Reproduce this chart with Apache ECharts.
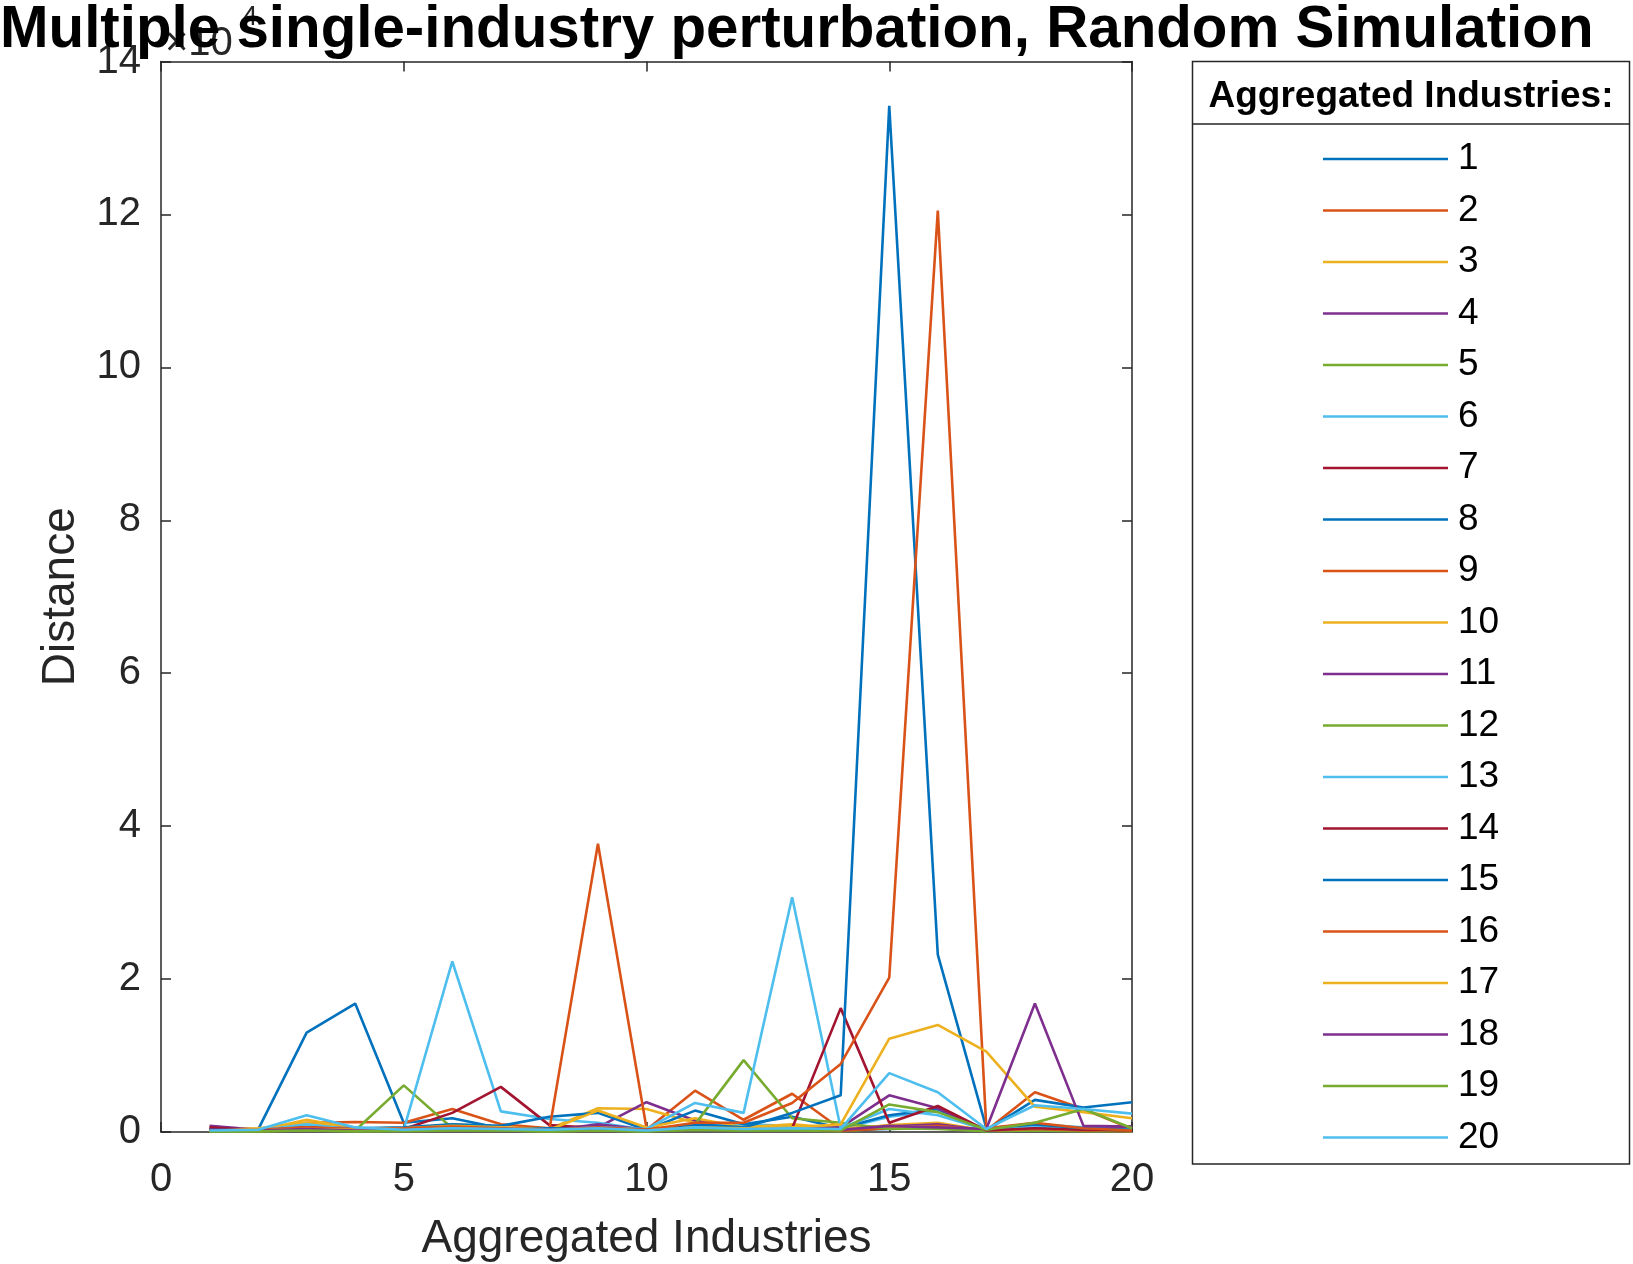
<!DOCTYPE html>
<html>
<head>
<meta charset="utf-8">
<script src="https://cdn.jsdelivr.net/npm/echarts@6/dist/echarts.min.js"></script>
<style>
html,body{margin:0;padding:0;background:#fff;}
#chart{width:1633px;height:1264px;}
</style>
</head>
<body>
<div id="chart"></div>
<script>
// x positions (aggregated industries)
var xCats = [1,2,3,4,5,6,7,8,9,10,11,12,13,14,15,16,17,18,19,20];
// values in units of 1e4
var s1  = [0.04,0.03,1.30,1.68,0.12,0.18,0.05,0.03,0.08,0.02,0.10,0.04,0.06,0.03,0.04,0.06,0.01,0.03,0.02,0.03];
var s2  = [0.05,0.04,0.12,0.13,0.12,0.30,0.10,0.05,0.08,0.03,0.54,0.16,0.50,0.04,0.08,0.10,0.02,0.52,0.30,0.04];
var s3  = [0.03,0.02,0.16,0.05,0.04,0.10,0.06,0.04,0.31,0.30,0.12,0.05,0.08,0.03,0.09,0.12,0.02,0.05,0.03,0.02];
var s4  = [0.08,0.03,0.10,0.04,0.03,0.08,0.03,0.02,0.06,0.39,0.15,0.05,0.06,0.02,0.07,0.10,0.02,0.04,0.02,0.01];
var s5  = [0.01,0.01,0.03,0.02,0.61,0.05,0.02,0.01,0.02,0.01,0.03,0.02,0.02,0.01,0.05,0.04,0.01,0.02,0.01,0.01];
var s6  = [0.02,0.03,0.08,0.04,0.03,2.23,0.27,0.17,0.12,0.03,0.10,0.10,0.08,0.04,0.20,0.28,0.03,0.10,0.06,0.04];
var s7  = [0.06,0.02,0.05,0.03,0.04,0.25,0.59,0.09,0.05,0.02,0.06,0.03,0.04,0.02,0.05,0.07,0.02,0.06,0.03,0.02];
var s8  = [0.02,0.02,0.08,0.05,0.06,0.10,0.08,0.20,0.25,0.03,0.28,0.10,0.20,0.05,0.22,0.30,0.02,0.42,0.32,0.39];
var s9  = [0.03,0.02,0.05,0.03,0.03,0.06,0.04,0.03,3.77,0.05,0.06,0.03,0.04,0.02,0.05,0.08,0.02,0.04,0.02,0.01];
var s10 = [0.02,0.05,0.12,0.04,0.05,0.08,0.06,0.03,0.28,0.06,0.18,0.06,0.10,0.05,0.08,0.06,0.02,0.05,0.03,0.02];
var s11 = [0.03,0.02,0.08,0.04,0.02,0.05,0.02,0.02,0.10,0.03,0.08,0.04,0.05,0.06,0.48,0.31,0.02,0.06,0.03,0.07];
var s12 = [0.01,0.01,0.02,0.01,0.02,0.03,0.02,0.01,0.02,0.01,0.10,0.94,0.18,0.12,0.04,0.05,0.01,0.10,0.03,0.01];
var s13 = [0.03,0.02,0.10,0.03,0.02,0.06,0.05,0.03,0.06,0.04,0.38,0.25,3.07,0.05,0.30,0.22,0.03,0.08,0.05,0.03];
var s14 = [0.04,0.02,0.06,0.03,0.02,0.05,0.04,0.02,0.04,0.03,0.05,0.04,0.05,1.62,0.12,0.34,0.02,0.05,0.03,0.02];
var s15 = [0.03,0.02,0.05,0.03,0.04,0.05,0.03,0.05,0.04,0.02,0.10,0.06,0.25,0.48,13.42,2.32,0.05,0.10,0.05,0.03];
var s16 = [0.02,0.03,0.06,0.04,0.05,0.07,0.05,0.03,0.06,0.03,0.12,0.12,0.38,0.89,2.02,12.05,0.05,0.12,0.05,0.02];
var s17 = [0.02,0.02,0.04,0.03,0.02,0.05,0.03,0.02,0.04,0.02,0.06,0.05,0.06,0.10,1.22,1.40,1.05,0.33,0.26,0.18];
var s18 = [0.03,0.02,0.04,0.02,0.02,0.04,0.03,0.02,0.03,0.02,0.04,0.03,0.04,0.03,0.08,0.06,0.04,1.68,0.08,0.07];
var s19 = [0.01,0.01,0.02,0.01,0.01,0.02,0.02,0.01,0.02,0.01,0.03,0.02,0.03,0.02,0.36,0.26,0.03,0.12,0.30,0.05];
var s20 = [0.02,0.03,0.22,0.06,0.03,0.05,0.04,0.03,0.05,0.02,0.06,0.04,0.05,0.04,0.77,0.52,0.04,0.35,0.30,0.24];
var seriesNames = ['1','2','3','4','5','6','7','8','9','10','11','12','13','14','15','16','17','18','19','20'];
var seriesValues = [s1,s2,s3,s4,s5,s6,s7,s8,s9,s10,s11,s12,s13,s14,s15,s16,s17,s18,s19,s20];
var titleText = 'Multiple single-industry perturbation, Random Simulation';
var legendTitle = 'Aggregated Industries:';
var xName = 'Aggregated Industries';
var yName = 'Distance';

var palette = ['#0072BD','#D95319','#EDB120','#7E2F8E','#77AC30','#4DBEEE','#A2142F'];
var FONT = 'Liberation Sans, Arial, Helvetica, sans-serif';
var AX = '#262626';

var GL = 161, GT = 61.5, GR = 1132, GB = 1132;

var chart = echarts.init(document.getElementById('chart'), null, {renderer:'canvas'});

var series = seriesValues.map(function(vals, i){
  return {
    name: seriesNames[i],
    type: 'line',
    xAxisIndex: 0, yAxisIndex: 0,
    data: vals.map(function(v, j){ return [xCats[j], v]; }),
    symbol: 'none',
    lineStyle: {width: 2.6, color: palette[i % 7]},
    itemStyle: {color: palette[i % 7]},
    animation: false
  };
});

function axCommon(){
  return {
    axisLine:{show:true, onZero:false, lineStyle:{color:AX, width:1.5}},
    axisTick:{show:true, inside:true, length:10, lineStyle:{color:AX, width:1.5}},
    splitLine:{show:false}
  };
}

var option = {
  animation: false,
  backgroundColor: '#ffffff',
  grid: {left: GL, top: GT, width: GR-GL, height: GB-GT, containLabel:false, outerBoundsMode:'none'},
  xAxis: [
    Object.assign({
      type:'value', min:0, max:20, interval:5, position:'bottom',
      name: xName, nameLocation:'middle', nameGap: 84,
      nameTextStyle:{fontFamily:FONT, fontSize:46, color:AX},
      axisLabel:{fontFamily:FONT, fontSize:40, color:AX, margin:28}
    }, axCommon()),
    Object.assign({
      type:'value', min:0, max:20, interval:5, position:'top',
      axisLabel:{show:false}
    }, axCommon())
  ],
  yAxis: [
    Object.assign({
      type:'value', min:0, max:14, interval:2, position:'left',
      name: yName, nameLocation:'middle', nameGap: 77, nameRotate: 90,
      nameTextStyle:{fontFamily:FONT, fontSize:46, color:AX},
      axisLabel:{fontFamily:FONT, fontSize:40, color:AX, margin:20}
    }, axCommon()),
    Object.assign({
      type:'value', min:0, max:14, interval:2, position:'right',
      axisLabel:{show:false}
    }, axCommon())
  ],
  legend: {
    orient:'vertical',
    left: 1318, top: 134,
    itemWidth: 125, itemHeight: 2.5, itemGap: 11.5,
    icon: 'rect',
    data: seriesNames,
    textStyle:{fontFamily:FONT, fontSize:37, color:'#000', lineHeight:40, padding:[0,0,0,5]},
    selectedMode:false
  },
  graphic: [
    {type:'text', left:165, top:24, z:1,
      style:{text:'\u00d710', font:'40px ' + FONT, fill:AX}},
    {type:'text', left:242, top:3, z:1,
      style:{text:'4', font:'28px ' + FONT, fill:AX}},
    {type:'text', left:0, top:2, z:10,
      style:{text:titleText, font:'bold 58.3px ' + FONT, fill:'#000'}},
    {type:'rect', z:0, shape:{x:1192.5, y:61.5, width:437, height:1102.5},
      style:{fill:'#fff', stroke:AX, lineWidth:1.5}},
    {type:'line', z:1, shape:{x1:1192.5, y1:124, x2:1629.5, y2:124},
      style:{stroke:AX, lineWidth:1.5}},
    {type:'text', z:1, x:1411, y:97,
      style:{text:legendTitle, font:'bold 37px ' + FONT, fill:'#000', textAlign:'center', textVerticalAlign:'middle'}}
  ],
  series: series
};
chart.setOption(option);
</script>
</body>
</html>
